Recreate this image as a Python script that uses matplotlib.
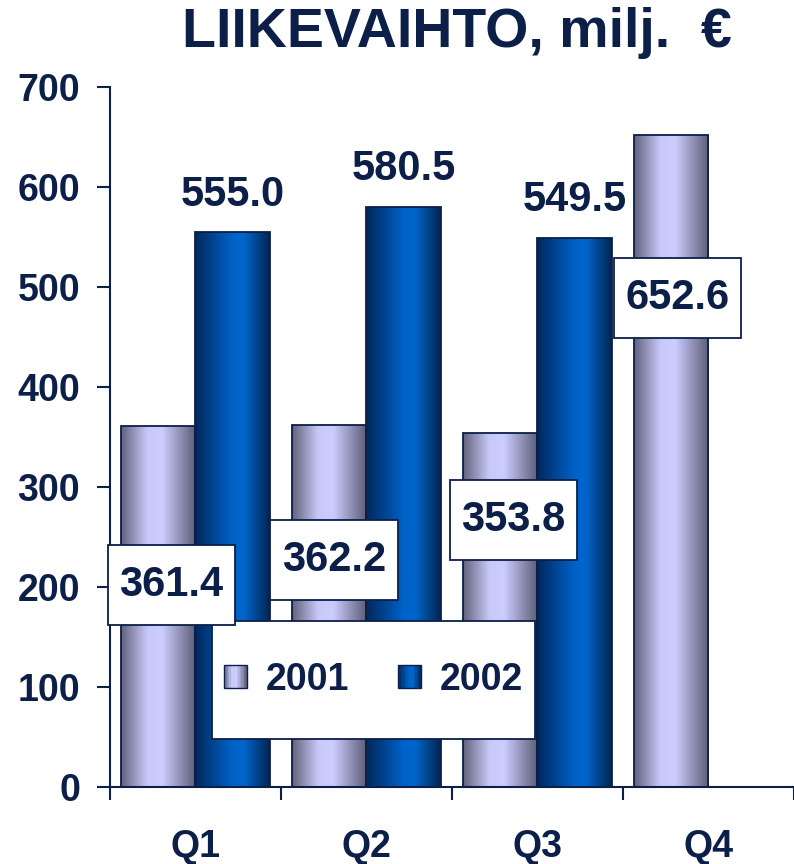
import numpy as np
import matplotlib.pyplot as plt
from matplotlib.colors import LinearSegmentedColormap
from matplotlib.patches import Rectangle
from matplotlib.path import Path
from matplotlib.legend_handler import HandlerBase

plt.rcParams['font.family'] = ['Liberation Sans', 'DejaVu Sans']
plt.rcParams['font.weight'] = 'bold'

# data
quarters = ['Q1', 'Q2', 'Q3', 'Q4']
sales_2001 = [361.4, 362.2, 353.8, 652.6]
sales_2002 = [555.0, 580.5, 549.5, np.nan]

# label box positions for 2001 values (x in category units, y in data units)
box_x = [-0.14, 0.81, 1.86, 2.82]
box_y = [202, 227, 267, 489]

navy = '#0b1f48'
cmap_2001 = LinearSegmentedColormap.from_list('c2001', [
    (0.0, '#62627c'), (0.35, '#c8c8f8'), (0.55, '#ccccff'), (1.0, '#5c5c76')])
cmap_2002 = LinearSegmentedColormap.from_list('c2002', [
    (0.0, '#00285a'), (0.5, '#0062c8'), (0.65, '#0066cc'), (1.0, '#002452')])


def label_box(x0, y0, width, height, mutation_size):
    # wider vertical padding than horizontal, like the original labels
    px, py = 0.28 * mutation_size, 0.48 * mutation_size
    x0, y0 = x0 - px, y0 - py
    x1, y1 = x0 + width + 2 * px, y0 + height + 2 * py
    return Path([(x0, y0), (x1, y0), (x1, y1), (x0, y1), (x0, y0)], closed=True)


fig = plt.figure(figsize=(7.94, 8.64), dpi=100)
ax = fig.add_axes([0.1385, 0.0891, 0.8615, 0.810])

x = np.arange(len(quarters))
w = 0.433
bars1 = ax.bar(x - w / 2, sales_2001, width=w, facecolor='none', edgecolor=navy, lw=1.3, zorder=3)
bars2 = ax.bar(x + w / 2, np.nan_to_num(sales_2002), width=w, facecolor='none', edgecolor=navy, lw=1.3, zorder=3)

grad = np.linspace(0, 1, 256).reshape(1, -1)
for bars, cmap, vals in [(bars1, cmap_2001, sales_2001), (bars2, cmap_2002, sales_2002)]:
    for b, v in zip(bars, vals):
        if np.isnan(v):
            b.set_visible(False)
            continue
        im = ax.imshow(grad, cmap=cmap, aspect='auto', zorder=2,
                       extent=[b.get_x(), b.get_x() + b.get_width(), 0, b.get_height()])
        im.set_clip_path(b)

ax.set_xlim(-0.5, 3.5)
ax.set_ylim(0, 700)

# value labels
for xi, v in zip(x, sales_2002):
    if not np.isnan(v):
        ax.annotate(f'{v:.1f}', (xi + w / 2, v), xytext=(0, 27), textcoords='offset points',
                    ha='center', va='center', fontsize=30, fontweight='bold', color=navy, zorder=6)
for bx, by, v in zip(box_x, box_y, sales_2001):
    ax.text(bx, by, f'{v:.1f}', ha='center', va='center', fontsize=30, fontweight='bold', color=navy,
            zorder=6, bbox=dict(boxstyle=label_box, facecolor='white', edgecolor=navy, lw=1.3))

# legend
ax.add_patch(Rectangle((0.149, 0.0686), 0.472, 0.168, transform=ax.transAxes,
                       facecolor='white', edgecolor=navy, lw=1.3, zorder=5))


class GradHandler(HandlerBase):
    def __init__(self, cmap):
        super().__init__()
        self.cmap = cmap

    def create_artists(self, legend, orig_handle, xdescent, ydescent, width, height, fontsize, trans):
        s = min(width, height)
        x0 = -xdescent + (width - s) / 2
        y0 = -ydescent + (height - s) / 2
        n = 16
        arts = [Rectangle((x0 + i * s / n, y0), s / n, s, facecolor=self.cmap((i + 0.5) / n),
                          edgecolor='none', transform=trans) for i in range(n)]
        arts.append(Rectangle((x0, y0), s, s, fill=False, edgecolor=navy, lw=1, transform=trans))
        return arts


h1 = Rectangle((0, 0), 1, 1)
h2 = Rectangle((0, 0), 1, 1)
leg = ax.legend([h1, h2], ['2001', '2002'], handler_map={h1: GradHandler(cmap_2001), h2: GradHandler(cmap_2002)},
                loc='center', bbox_to_anchor=(0.385, 0.153), ncol=2, frameon=False,
                handlelength=0.62, handleheight=0.62, handletextpad=0.5, columnspacing=1.3,
                prop={'size': 27, 'weight': 'bold'})
leg.set_zorder(7)
for t in leg.get_texts():
    t.set_color(navy)

# axes styling
for s in ['top', 'right']:
    ax.spines[s].set_visible(False)
for s in ['left', 'bottom']:
    ax.spines[s].set_color(navy)
    ax.spines[s].set_linewidth(1.5)
ax.set_yticks(range(0, 701, 100))
ax.tick_params(axis='y', length=9.5, width=1.5, color=navy, pad=12, labelsize=27, labelcolor=navy)
ax.set_xticks(x)
ax.set_xticklabels(quarters)
ax.set_xticks(np.arange(-0.5, 4.0, 1.0), minor=True)
ax.tick_params(axis='x', which='major', length=0, pad=30, labelsize=27, labelcolor=navy)
ax.tick_params(axis='x', which='minor', length=9, width=1.5, color=navy)
for lbl in ax.get_xticklabels() + ax.get_yticklabels():
    lbl.set_fontweight('bold')

fig.text(0.576, 0.962, 'LIIKEVAIHTO, milj.  €', ha='center', va='center', fontsize=40,
         fontweight='bold', color=navy)

fig.savefig('out.png', dpi=100)
